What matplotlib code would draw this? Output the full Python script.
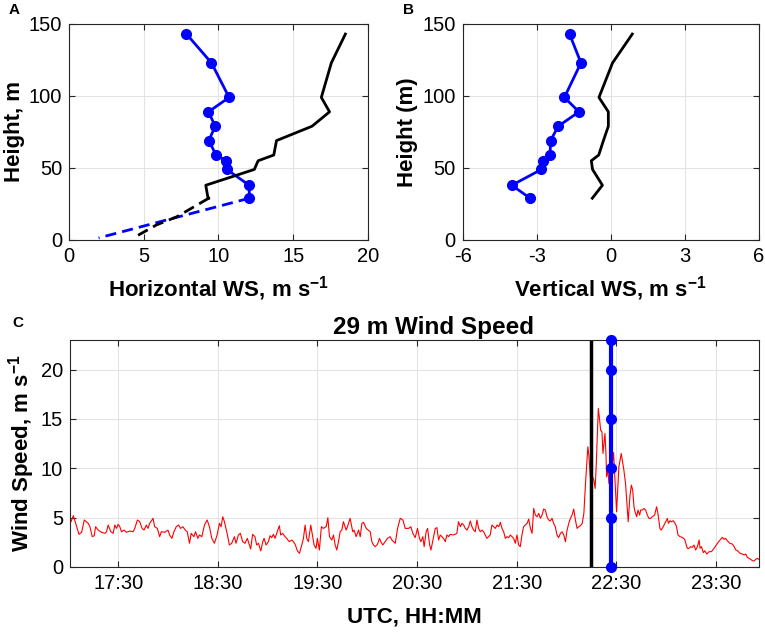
import matplotlib
matplotlib.use('Agg')

import matplotlib.pyplot as plt
import matplotlib.dates as mdates
import pandas as pd

# panel A / B : profiles
height = [143, 123, 99, 89, 79, 69, 59, 55, 49, 38, 29]
horiz_blue = [7.86, 9.53, 10.71, 9.33, 9.78, 9.35, 9.84, 10.51, 10.56, 12.05, 12.07]
horiz_black = [18.49, 17.55, 16.88, 17.43, 16.26, 13.88, 13.70, 12.65, 12.4, 9.15, 9.3]
horiz_black_step = [9.35]
dash_height = [29, 16, 10.5, 1.4]
dash_blue = [12.07, 7.3, 5.3, 1.98]
dash_black = [9.35, 7.19, 5.86, 4.30]

vert_blue = [-1.67, -1.21, -1.88, -1.29, -2.13, -2.44, -2.46, -2.73, -2.81, -4.01, -3.27]
vert_black = [0.87, 0.07, -0.48, -0.10, -0.10, -0.30, -0.49, -0.79, -0.74, -0.34, -0.75]

# panel C : 29 m wind speed, minutes after 17:00
ws_min = [
    1.6, 3.0, 6.4, 8.0, 9.6, 12, 13, 14.4, 15.6, 16.4, 18, 20, 22, 23, 24, 25.6,
    27, 28, 29, 30, 31, 32, 33.6, 35, 37, 39, 40, 41.6, 43, 44.4, 45.6, 47, 48,
    49, 51, 52, 53.6, 55, 56, 58, 60, 61, 62.4, 63.6, 65, 66.4, 67.6, 69, 70.4,
    71.6, 73, 74, 75.6, 76.6, 78, 79, 80.4, 82, 83.6, 85, 86.4, 88, 89.6, 91, 92,
    93, 94, 95.6, 97, 98.4, 100, 101, 102.4, 103.6, 105, 106.4, 107.8,
    109.0, 109.8, 111.0, 112.4, 113.4, 114.5, 115.9, 117.1, 117.9, 119.1, 120.5,
    121.5, 122.5, 123.5, 124.5, 125.5, 127.1, 127.9, 129.1, 130.5, 131.5, 133.1,
    134.6, 135.6, 136.6, 138.0, 139.2, 140.6, 141.6, 142.6, 143.6, 144.6, 146.0,
    147.2, 148.0, 149.2, 150.0, 151.2, 152.4, 153.6, 155.3, 156.3, 157.3, 158.7,
    159.7, 160.7, 161.7, 162.7, 163.7, 164.7, 165.7, 167.3, 168.1, 169.7, 171.3,
    172.1, 173.3, 174.8, 175.8, 176.8, 177.8, 179.4, 180.6, 181.8, 182.8, 183.8,
    184.8, 186.2, 187.4, 188.2, 189.4, 190.8, 192.2, 193.8, 194.9, 195.9, 196.9,
    198.3, 199.9, 201.5, 202.9, 204.9, 206.3, 207.5, 208.9,
    210.3, 211.5, 212.3, 213.5, 214.3, 215.5, 216.4, 217.6, 218.4, 219.6, 221.0,
    222.0, 223.0, 224.0, 225.0, 226.0, 227.0, 228.0, 229.0, 230.0, 231.6, 233.0,
    234.0, 235.0, 236.1, 237.1, 238.1, 239.1, 240.1, 241.1, 242.1, 243.1, 244.1,
    245.1, 246.1, 247.1, 248.1, 249.1, 250.1, 251.1, 252.1, 253.1, 254.1, 255.1,
    256.2, 257.2, 258.2, 259.2, 260.2, 261.2, 262.2, 263.2, 264.2, 265.2, 266.2,
    267.2, 268.2, 269.2, 270.2, 271.2, 272.2, 273.2, 274.2, 275.2, 276.3, 277.3,
    278.3, 279.3, 280.3, 281.3, 282.3, 283.3, 284.3, 285.3, 286.3, 287.3, 288.3,
    289.3, 290.3, 291.3, 292.3, 293.3, 294.3, 295.3, 296.4, 297.4, 298.4, 299.4,
    300.4, 301.4, 302.4, 303.4, 304.4, 305.4, 306.4, 307.4, 308.4, 309.5,
    310.5, 311.5, 312.5, 312.9, 313.5, 314.1, 314.9, 315.7, 316.5, 317.3, 317.9,
    318.5, 319.2, 320.0, 320.6, 321.4, 322.0, 322.6, 323.2, 323.8, 324.2, 325.0,
    325.6, 326.6, 328.4, 330.2, 331.6, 333.0, 334.6, 335.6, 336.6, 337.2, 338.2,
    339.1, 339.9, 340.7, 341.3, 342.3, 343.1, 344.1, 344.7, 345.7, 346.7, 347.7,
    348.7, 349.7, 350.7, 351.7, 353.1, 354.3, 355.1, 356.3, 357.1, 358.3, 359.8,
    360.8, 361.4, 362.4, 363.2, 364.4, 365.4, 366.2, 367.2, 368.4, 369.8, 371.2,
    372.8, 373.8, 374.8, 375.8, 376.8, 377.8, 378.9, 379.9, 380.5, 381.3, 382.5,
    383.3, 384.5, 385.9, 387.3, 388.9, 390.9, 392.5, 393.9, 394.9, 395.9, 396.9,
    398.5, 400.0, 401.0, 402.0, 403.0, 404.6, 406.0, 407.0, 408.0, 409.0, 410.0,
    411.0, 412.0, 413.0, 414.0, 415.0, 416.0,
]
ws_val = [
    4.59, 5.20, 3.31, 3.51, 4.76, 4.42, 4.08, 3.07, 3.17, 4.08, 3.74, 3.51, 3.41,
    3.57, 4.25, 3.57, 3.41, 4.25, 3.91, 4.32, 4.08, 3.57, 3.74, 3.51, 3.64, 3.57,
    3.91, 4.76, 4.59, 3.91, 3.74, 4.25, 3.91, 4.42, 4.93, 4.08, 3.91, 3.07, 3.57,
    3.51, 3.74, 3.24, 2.90, 3.57, 4.08, 4.25, 3.91, 4.08, 3.74, 3.57, 2.40, 3.41,
    3.07, 3.57, 2.90, 3.24, 3.07, 4.25, 4.76, 4.08, 2.90, 2.40, 3.24, 4.42, 4.08,
    5.09, 4.59, 3.41, 2.23, 2.40, 3.07, 2.40, 3.24, 3.41, 2.56, 2.40, 2.90,
    2.23, 1.82, 3.31, 3.07, 2.23, 2.40, 1.62, 2.56, 2.90, 2.23, 2.56, 3.17, 2.97,
    3.31, 2.90, 3.41, 4.18, 3.24, 3.41, 3.07, 2.90, 2.56, 2.73, 2.56, 2.29, 1.62,
    1.38, 2.23, 2.90, 4.25, 2.90, 2.56, 4.25, 3.07, 2.23, 1.89, 2.90, 1.72, 4.08,
    3.91, 4.08, 4.99, 3.07, 2.73, 3.24, 2.23, 1.72, 2.56, 3.57, 3.74, 4.59, 3.74,
    4.08, 4.93, 3.57, 3.74, 3.07, 3.74, 3.07, 4.42, 4.52, 3.91, 3.74, 3.57, 2.56,
    2.23, 2.06, 2.29, 2.90, 2.56, 2.23, 2.56, 2.90, 3.07, 2.73, 2.56, 2.40, 3.91,
    4.93, 4.76, 3.91, 3.91, 4.08, 3.41, 2.97,
    3.91, 2.90, 2.56, 3.07, 2.06, 3.57, 3.91, 2.23, 1.72, 2.73, 3.91, 3.98, 2.73,
    3.24, 3.07, 2.90, 2.56, 3.24, 3.07, 3.31, 3.24, 3.31, 3.41, 4.59, 4.08, 4.42,
    4.25, 3.91, 3.74, 4.08, 4.66, 4.08, 3.74, 3.57, 4.76, 3.91, 3.57, 3.74, 3.57,
    3.24, 2.90, 3.07, 3.24, 4.25, 4.08, 3.91, 4.25, 4.08, 4.52, 3.91, 3.57, 2.90,
    3.07, 2.97, 3.24, 3.07, 2.90, 2.40, 3.24, 2.23, 2.06, 3.24, 4.08, 4.25, 4.42,
    4.86, 3.91, 3.41, 5.94, 5.26, 5.09, 5.43, 4.93, 5.26, 5.87, 5.77, 5.09, 4.76,
    4.66, 4.93, 4.42, 4.08, 3.24, 2.97, 3.41, 3.57, 3.24, 2.56, 3.74, 4.42, 4.93,
    5.26, 5.87, 4.76, 3.91, 4.08, 4.18, 4.42,
    5.43, 8.50, 11.16, 12.18, 11.33, 9.81, 7.96, 9.14, 8.80, 7.96, 10.15, 12.85,
    16.06, 14.88, 13.86, 13.69, 11.50, 12.51, 13.53, 11.50, 9.14, 9.81, 8.46, 8.80,
    11.60, 5.60, 10.15, 11.50, 9.81, 8.46, 6.10, 4.58, 7.12, 8.30, 7.79, 6.10,
    5.60, 5.09, 5.77, 5.26, 5.77, 5.77, 5.93, 5.77, 5.26, 4.92, 4.92, 5.09, 5.26,
    6.10, 5.43, 3.91, 3.74, 4.08, 4.58, 4.92, 4.42, 4.69, 4.58, 4.69, 4.42, 4.15,
    3.24, 3.07, 3.00, 2.80, 1.89, 1.89, 2.06, 1.99, 2.22, 1.72, 2.06, 2.73, 1.89,
    2.06, 1.45, 1.65, 1.31, 1.55, 1.55, 1.89, 2.39, 2.73, 3.00, 2.80, 2.90, 2.66,
    2.39, 2.32, 2.06, 1.72, 1.65, 1.38, 1.31, 1.21, 1.31, 0.97, 0.87, 0.77, 0.64,
    0.60, 0.77, 0.87, 0.77,
]
black_time = '22:15'
blue_time = '22:27'
blue_ws = [0, 5, 10, 15, 20, 23]
time_ticks = ['17:30', '18:30', '19:30', '20:30', '21:30', '22:30', '23:30']
time_lim = ['17:01', '23:56']

day = '2000-01-01 '
t0 = pd.Timestamp(day + '17:00')
ws_time = t0 + pd.to_timedelta(ws_min, unit='m')


def ts(hhmm):
    return pd.Timestamp(day + hhmm)


plt.rcParams['font.family'] = ['Liberation Sans', 'DejaVu Sans']
plt.rcParams['mathtext.fontset'] = 'custom'
plt.rcParams['mathtext.rm'] = 'Liberation Sans'
plt.rcParams['mathtext.bf'] = 'Liberation Sans:bold'
plt.rcParams['axes.unicode_minus'] = False

spine_col = '#262626'
grid_col = '#e3e3e3'
lab_fs = 16
tick_fs = 14.5

fig = plt.figure(figsize=(7.65, 6.33), dpi=100)

axA = fig.add_axes([0.0902, 0.6209, 0.3908, 0.3412])
axB = fig.add_axes([0.6048, 0.6209, 0.3873, 0.3412])
axC = fig.add_axes([0.0915, 0.1043, 0.9007, 0.3586])


def style(ax):
    ax.grid(True, color=grid_col, lw=0.8)
    ax.set_axisbelow(True)
    for s in ax.spines.values():
        s.set_color(spine_col)
        s.set_linewidth(0.8)
    ax.tick_params(direction='in', top=True, right=True, length=4,
                   width=0.8, color=spine_col, labelsize=tick_fs, pad=5)


# A
axA.plot(horiz_blue, height, '-o', color='blue', lw=2, ms=7)
axA.plot(horiz_black + horiz_black_step, height + [29], '-', color='black', lw=2)
axA.plot(dash_blue, dash_height, '--', color='blue', lw=2, dashes=(4, 2.2))
axA.plot(dash_black, dash_height, '--', color='black', lw=2, dashes=(4, 2.2))
axA.set_xlim(0, 20)
axA.set_ylim(0, 150)
axA.set_xticks([0, 5, 10, 15, 20])
axA.set_yticks([0, 50, 100, 150])
axA.set_xlabel(r'Horizontal WS, m s$^{\mathbf{-1}}$', fontsize=lab_fs,
               fontweight='bold', labelpad=6)
axA.set_ylabel('Height, m', fontsize=lab_fs, fontweight='bold', labelpad=2.5)
style(axA)

# B
axB.plot(vert_blue, height, '-o', color='blue', lw=2, ms=7)
axB.plot(vert_black, height, '-', color='black', lw=2)
axB.set_xlim(-6, 6)
axB.set_ylim(0, 150)
axB.set_xticks([-6, -3, 0, 3, 6])
axB.set_yticks([0, 50, 100, 150])
axB.set_xlabel(r'Vertical WS, m s$^{\mathbf{-1}}$', fontsize=lab_fs,
               fontweight='bold', labelpad=6)
axB.set_ylabel('Height (m)', fontsize=lab_fs, fontweight='bold', labelpad=3)
style(axB)

# C
axC.plot(ws_time, ws_val, color='red', lw=0.8)
axC.axvline(ts(black_time), color='black', lw=2.5)
axC.plot([ts(blue_time)] * len(blue_ws), blue_ws, '-o', color='blue',
         lw=3, ms=7, clip_on=False, zorder=5)
axC.set_xlim(ts(time_lim[0]), ts(time_lim[1]))
axC.set_ylim(0, 23)
axC.set_yticks([0, 5, 10, 15, 20])
axC.set_xticks([ts(t) for t in time_ticks])
axC.xaxis.set_major_formatter(mdates.DateFormatter('%H:%M'))
axC.set_xlabel('UTC, HH:MM', fontsize=lab_fs, fontweight='bold', labelpad=10)
axC.set_ylabel(r'Wind Speed, m s$^{\mathbf{-1}}$', fontsize=lab_fs,
               fontweight='bold', labelpad=3)
axC.set_title('29 m Wind Speed', fontsize=17.5, fontweight='bold',
              x=0.528, pad=4)
style(axC)

fig.text(14 / 765, 1 - 10 / 633, 'A', fontsize=11, fontweight='bold',
         ha='center', va='center')
fig.text(409 / 765, 1 - 10 / 633, 'B', fontsize=11, fontweight='bold',
         ha='center', va='center')
fig.text(18 / 765, 1 - 323 / 633, 'C', fontsize=11, fontweight='bold',
         ha='center', va='center')

fig.savefig('out.png', dpi=100)
plt.close(fig)
